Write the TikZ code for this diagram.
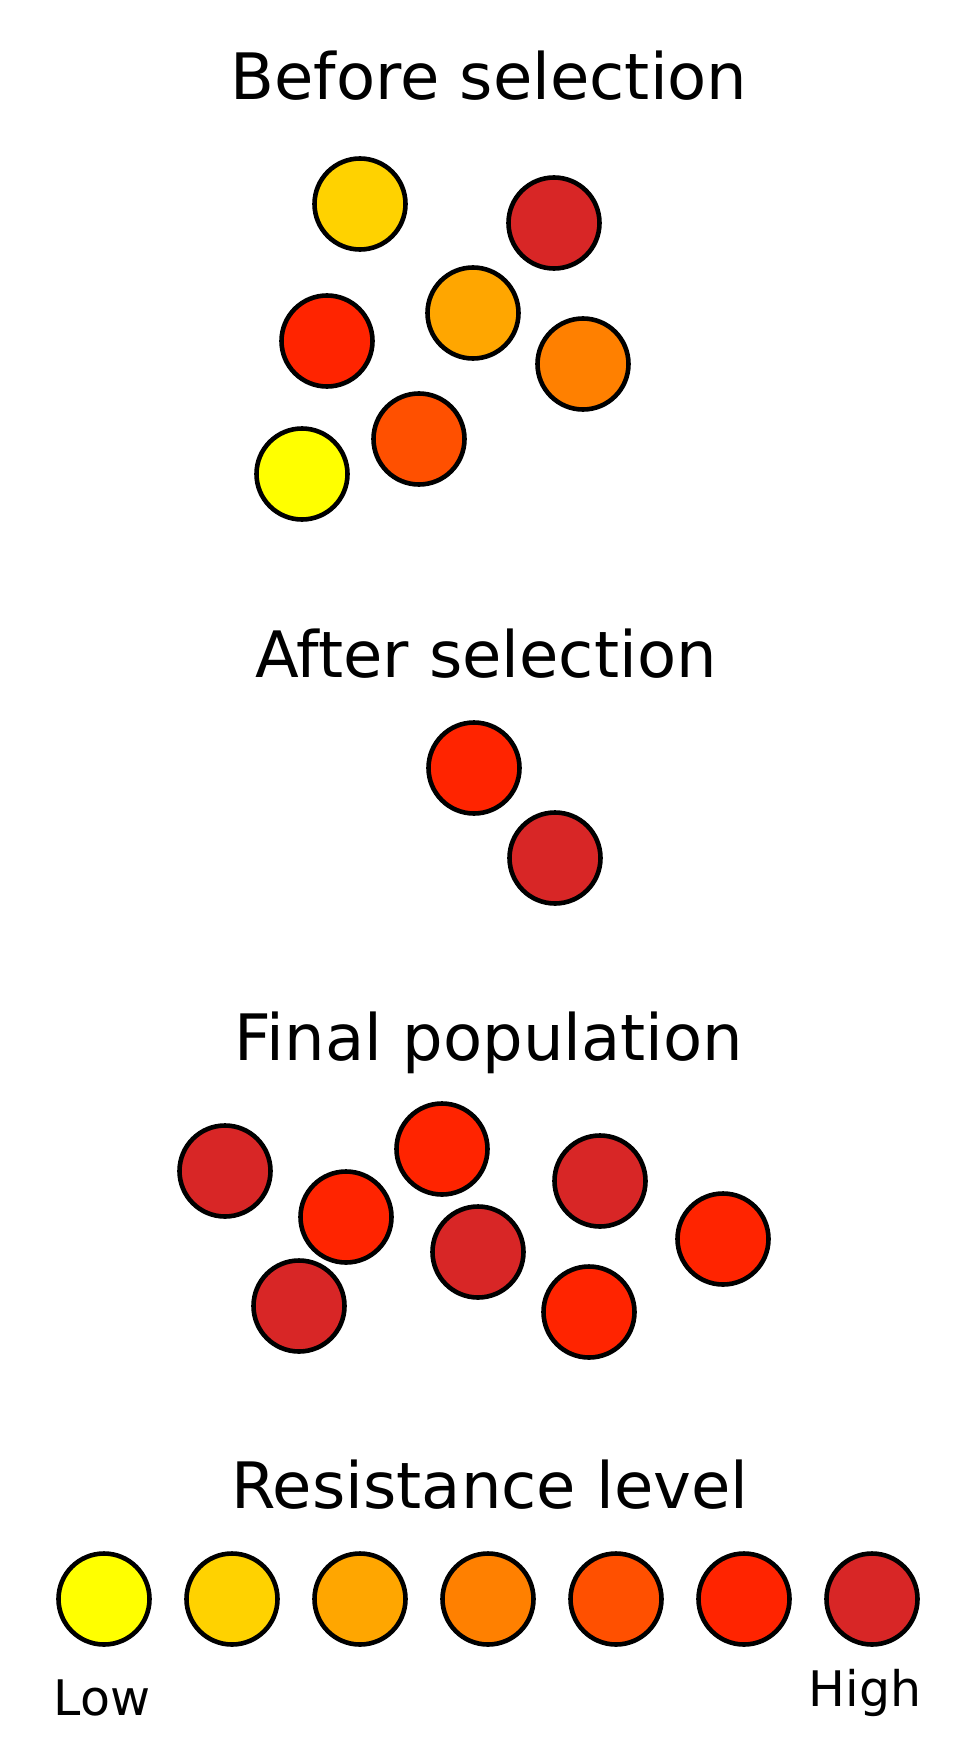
\documentclass[tikz,border=0pt]{standalone}
\usepackage{fontspec}
\setmainfont{DejaVu Sans}
\usepackage{tikz}
\definecolor{lvlA}{RGB}{255,255,0}
\definecolor{lvlB}{RGB}{255,210,0}
\definecolor{lvlC}{RGB}{255,166,0}
\definecolor{lvlD}{RGB}{255,128,0}
\definecolor{lvlE}{RGB}{255,80,0}
\definecolor{lvlF}{RGB}{255,36,0}
\definecolor{lvlG}{RGB}{216,38,38}
\tikzset{cell/.style={circle,draw=black,line width=2.3pt,minimum size=45.5pt,inner sep=0pt},
         title/.style={anchor=base,font=\fontsize{32}{38}\selectfont},
         endlabel/.style={anchor=base,font=\fontsize{24.5}{30}\selectfont}}

\begin{document}
\begin{tikzpicture}[x=0.5pt,y=-0.5pt]
\useasboundingbox (0,0) rectangle (960,1760);
% before selection
\node[title] (before) at (489,100) {Before selection};
\node[cell,fill=lvlB] (b1) at (360,204) {};
\node[cell,fill=lvlG] (b2) at (554,223) {};
\node[cell,fill=lvlC] (b3) at (473,313) {};
\node[cell,fill=lvlF] (b4) at (327,341) {};
\node[cell,fill=lvlD] (b5) at (583,364) {};
\node[cell,fill=lvlE] (b6) at (419,439) {};
\node[cell,fill=lvlA] (b7) at (302,474) {};
% after selection
\node[title] (after) at (486,677) {After selection};
\node[cell,fill=lvlF] (a1) at (474,768) {};
\node[cell,fill=lvlG] (a2) at (555,858) {};
% final population
\node[title] (final) at (489,1060) {Final population};
\node[cell,fill=lvlF] (f1) at (442,1149) {};
\node[cell,fill=lvlG] (f2) at (225,1171) {};
\node[cell,fill=lvlG] (f3) at (600,1181) {};
\node[cell,fill=lvlF] (f4) at (346,1217) {};
\node[cell,fill=lvlF] (f5) at (723,1239) {};
\node[cell,fill=lvlG] (f6) at (478,1252) {};
\node[cell,fill=lvlG] (f7) at (299,1306) {};
\node[cell,fill=lvlF] (f8) at (589,1312) {};
% legend
\node[title] (legend) at (490,1508) {Resistance level};
\foreach \c [count=\i] in {lvlA,lvlB,lvlC,lvlD,lvlE,lvlF,lvlG}
  \node[cell,fill=\c] (l\i) at ({104+128*(\i-1)},1599) {};
\node[endlabel] (low) at (102,1715) {Low};
\node[endlabel] (high) at (865,1706) {High};
\end{tikzpicture}
\end{document}
